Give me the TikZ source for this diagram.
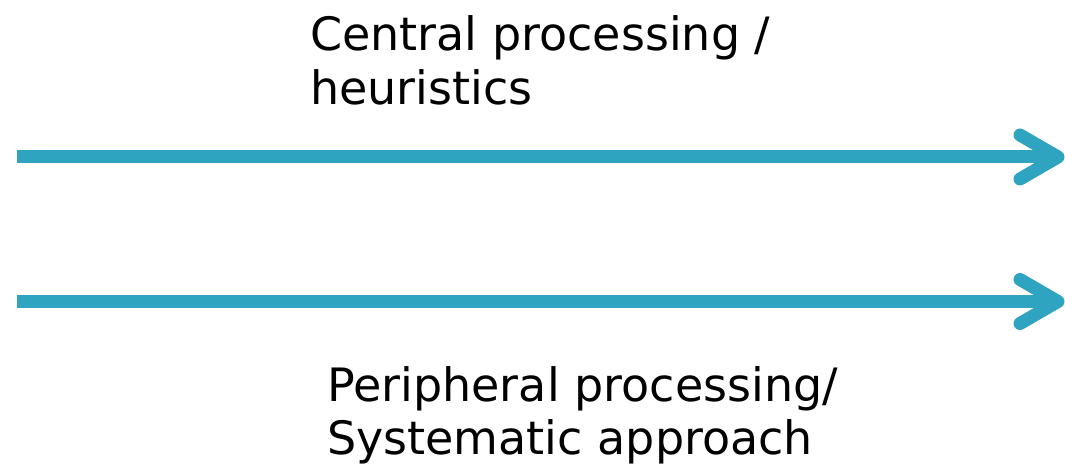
\documentclass[tikz,border=0pt]{standalone}
\usepackage{fontspec}
\setmainfont{DejaVu Sans}
\definecolor{arrowblue}{RGB}{47,164,192}
\begin{document}
\begin{tikzpicture}[x=1pt,y=1pt,
  arrowline/.style={draw=arrowblue, line width=13pt},
  arrowhead/.style={draw=arrowblue, line width=13pt, line cap=round, line join=round},
  label/.style={anchor=north west, inner sep=0pt, align=left, font=\fontsize{46}{53.5}\selectfont}]
\useasboundingbox (0,0) rectangle (1065,464);
% top arrow
\coordinate (s1) at (17,307);
\coordinate (e1) at (1058,307);
\draw[arrowline] (s1) -- (e1);
\draw[arrowhead] ([shift={(-38,22)}]e1) -- (e1) -- ([shift={(-38,-22)}]e1);
% bottom arrow
\coordinate (s2) at (17,162.5);
\coordinate (e2) at (1058,162.5);
\draw[arrowline] (s2) -- (e2);
\draw[arrowhead] ([shift={(-38,22)}]e2) -- (e2) -- ([shift={(-38,-22)}]e2);
% labels
\node[label] (central) at (310,448.5) {Central processing /\\heuristics};
\node[label] (peripheral) at (327,98) {Peripheral processing/\\Systematic approach};
\end{tikzpicture}
\end{document}
